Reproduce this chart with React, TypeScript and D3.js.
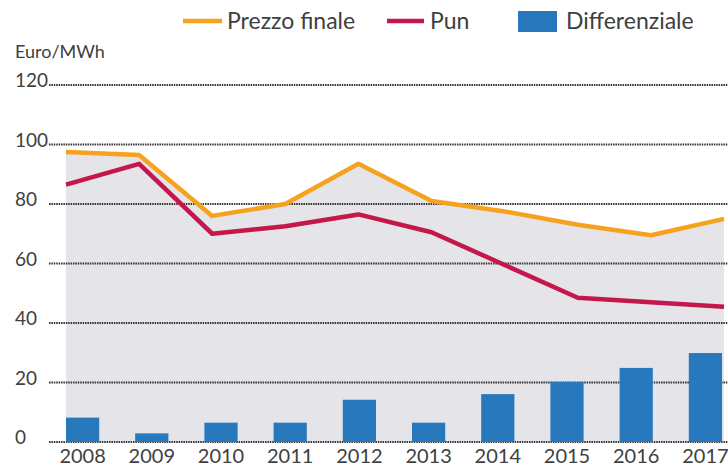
import React, { useEffect, useRef } from 'react';
import * as d3 from 'd3';

const years = ['2008', '2009', '2010', '2011', '2012', '2013', '2014', '2015', '2016', '2017'];
const prezzoFinale = [97.5, 96.5, 76, 80, 93.5, 81, 77.5, 73, 69.5, 75];
const pun = [86.5, 93.5, 70, 72.5, 76.5, 70.5, 59.5, 48.5, 47, 45.5];
const differenziale = [8.2, 2.9, 6.5, 6.5, 14.2, 6.5, 16.1, 20.2, 24.9, 29.9];
const yTicks = [0, 20, 40, 60, 80, 100, 120];

const ORANGE = '#f6a21e';
const CRIMSON = '#c4174b';
const BLUE = '#2878be';
const GREY = '#e4e4e9';
const TEXT = '#404040';
const FONT = 'Lato, "Open Sans", sans-serif';

const App = () => {
  const ref = useRef<SVGSVGElement>(null);

  useEffect(() => {
    const width = 728;
    const height = 466;
    const svg = d3.select(ref.current).attr('width', width).attr('height', height);
    svg.selectAll('*').remove();

    const yScale = d3.scaleLinear().domain([0, 120]).range([442, 85]);
    const xBand = d3.scaleBand<string>().domain(years).range([48, 740])
      .paddingInner(0.52).paddingOuter(0.26);
    const xPoint = d3.scalePoint<string>().domain(years).range([66, 724]);

    // grey area under the final price line
    const area = d3.area<number>()
      .x((d, i) => xPoint(years[i])!)
      .y0(yScale(0))
      .y1(d => yScale(d));
    svg.append('path').datum(prezzoFinale).attr('d', area).attr('fill', GREY);

    // dotted gridlines + labels
    yTicks.forEach(t => {
      svg.append('line')
        .attr('x1', 49).attr('x2', 728)
        .attr('y1', yScale(t)).attr('y2', yScale(t))
        .attr('stroke', '#333')
        .attr('stroke-width', 2)
        .attr('stroke-dasharray', '1.5 0.9');
      svg.append('text')
        .attr('x', 15).attr('y', yScale(t) + 2)
        .attr('fill', TEXT)
        .attr('font-family', FONT)
        .attr('font-size', 19)
        .text(t);
    });

    // bars
    svg.selectAll('.bar')
      .data(differenziale)
      .join('rect')
      .attr('class', 'bar')
      .attr('x', (d, i) => xBand(years[i])!)
      .attr('width', xBand.bandwidth())
      .attr('y', d => yScale(d))
      .attr('height', d => yScale(0) - yScale(d))
      .attr('fill', BLUE);

    // lines
    const line = d3.line<number>()
      .x((d, i) => xPoint(years[i])!)
      .y(d => yScale(d));
    svg.append('path').datum(pun).attr('d', line)
      .attr('fill', 'none').attr('stroke', CRIMSON).attr('stroke-width', 4.5)
      .attr('stroke-linejoin', 'round');
    svg.append('path').datum(prezzoFinale).attr('d', line)
      .attr('fill', 'none').attr('stroke', ORANGE).attr('stroke-width', 4.5)
      .attr('stroke-linejoin', 'round');

    // x labels
    svg.selectAll('.xlab')
      .data(years)
      .join('text')
      .attr('class', 'xlab')
      .attr('x', d => xBand(d)! + xBand.bandwidth() / 2)
      .attr('y', 463)
      .attr('text-anchor', 'middle')
      .attr('fill', TEXT)
      .attr('font-family', FONT)
      .attr('font-size', 20)
      .text(d => d);

    // unit label
    svg.append('text')
      .attr('x', 15).attr('y', 58)
      .attr('fill', TEXT)
      .attr('font-family', FONT)
      .attr('font-size', 18)
      .text('Euro/MWh');

    // legend
    const legend = svg.append('g').attr('font-family', FONT).attr('font-size', 23).attr('fill', TEXT);
    legend.append('line').attr('x1', 183).attr('x2', 222).attr('y1', 21).attr('y2', 21)
      .attr('stroke', ORANGE).attr('stroke-width', 4.5);
    legend.append('text').attr('x', 227).attr('y', 29).text('Prezzo finale');
    legend.append('line').attr('x1', 387).attr('x2', 424).attr('y1', 21).attr('y2', 21)
      .attr('stroke', CRIMSON).attr('stroke-width', 4.5);
    legend.append('text').attr('x', 430).attr('y', 29).text('Pun');
    legend.append('rect').attr('x', 518).attr('y', 11).attr('width', 39).attr('height', 21)
      .attr('fill', BLUE);
    legend.append('text').attr('x', 566).attr('y', 29).text('Differenziale');
  }, []);

  return (
    <div style={{ position: 'absolute', left: 0, top: 0 }}>
      <svg ref={ref} style={{ display: 'block' }}></svg>
    </div>
  );
};

export default App;
